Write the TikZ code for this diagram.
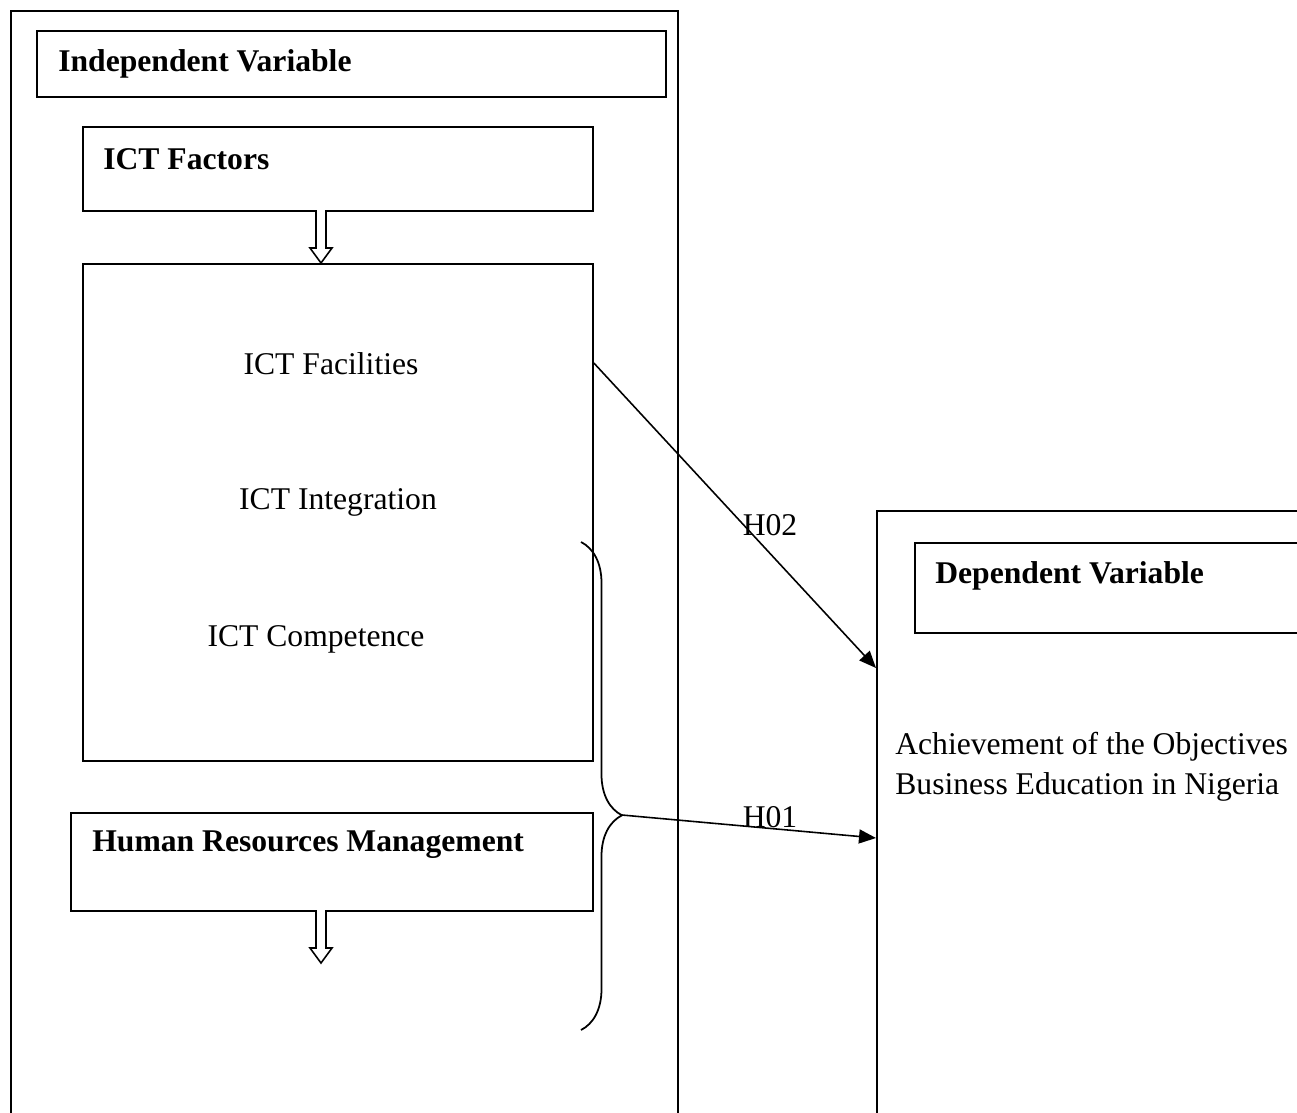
\documentclass[tikz,border=0pt]{standalone}
\usepackage{fontspec}
\setmainfont{Liberation Serif}
\usetikzlibrary{arrows.meta, positioning, decorations.pathreplacing}
\tikzset{
    framebox/.style={rectangle, draw, line width=1.1pt, anchor=north west, inner sep=0pt},
    titletext/.style={anchor=west, inner sep=0pt, font=\fontsize{18}{22}\selectfont\bfseries},
    itemtext/.style={inner sep=0pt, font=\fontsize{18}{22}\selectfont},
    arrow/.style={-{Triangle[length=3.4mm, width=2.8mm]}, line width=0.9pt},
    hollowarrow/.style={draw, line width=0.9pt, fill=white, line join=miter},
    bracestyle/.style={decorate, decoration={brace, amplitude=0.82cm, aspect=0.56}, line width=1pt},
}
\begin{document}
\begin{tikzpicture}[x=0.02cm, y=-0.02cm]
    \useasboundingbox (0,0) rectangle (1297,1112);
    \clip (0,0) rectangle (1297,1112);

    % Independent side
    \node[framebox, minimum width=13.34cm, minimum height=23cm] (indep) at (10,10) {};
    \node[framebox, minimum width=12.58cm, minimum height=1.32cm] (indeptitle) at (36,30) {};
    \node[titletext] (indeplbl) at (58,64) {Independent Variable};

    % ICT factors
    \node[framebox, minimum width=10.2cm, minimum height=1.68cm] (ictf) at (82,126) {};
    \node[titletext] (ictflbl) at (103,159) {ICT Factors};
    \node[framebox, minimum width=10.2cm, minimum height=9.94cm] (items) at (82,263) {};
    \node[itemtext] (facil) at (331,364) {ICT Facilities};
    \node[itemtext] (integ) at (338,502) {ICT Integration};
    \node[itemtext] (compet) at (316,639) {ICT Competence};

    % Human resources
    \node[framebox, minimum width=10.44cm, minimum height=1.96cm] (hrm) at (70,812) {};
    \node[titletext] (hrmlbl) at (92,845) {Human Resources Management};

    % Hollow arrows
    \coordinate (arrowa) at (321,210);
    \coordinate (arrowb) at (321,910);
    \foreach \arr in {arrowa, arrowb}
        \draw[hollowarrow] (\arr) +(-5,0) -- +(-5,38) -- +(-11,38) -- +(0,53) -- +(11,38) -- +(5,38) -- +(5,0);

    % Brace
    \coordinate (bracetop) at (581,542);
    \coordinate (bracebot) at (581,1030);
    \coordinate (bracetip) at (622,815);
    \draw[bracestyle] (bracetop) -- (bracebot);

    % Dependent side
    \node[framebox, minimum width=10cm, minimum height=14cm] (dep) at (876,510) {};
    \node[framebox, minimum width=10cm, minimum height=1.8cm] (deptitle) at (914,542) {};
    \node[titletext] (deplbl) at (935,576) {Dependent Variable};
    \node[itemtext, anchor=west, align=left, font=\fontsize{18}{22.8}\selectfont] (achieve) at (895,767) {Achievement of the Objectives\\Business Education in Nigeria};

    % Hypotheses
    \coordinate (h2end) at (876,668);
    \coordinate (h1end) at (876,838);
    \draw[arrow] (items.east |- 0,363) -- (h2end);
    \draw[arrow] (bracetip) -- (h1end);
    \node[itemtext] (h2lbl) at (770,525) {H02};
    \node[itemtext] (h1lbl) at (770,817) {H01};
\end{tikzpicture}
\end{document}
